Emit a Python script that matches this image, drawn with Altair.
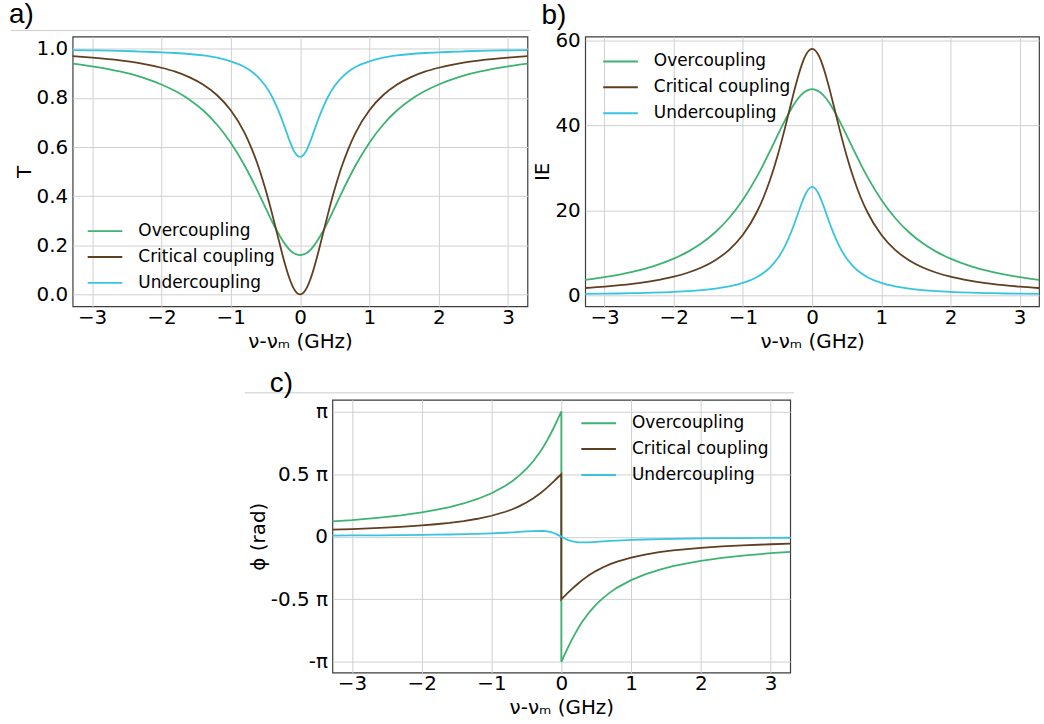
import altair as alt
import pandas as pd

# ---------------- data ----------------
SERIES = ["Overcoupling", "Critical coupling", "Undercoupling"]
COLORS = ["#3cb371", "#603f21", "#38c4e0"]

# detuning positions (GHz) on one side; curves are mirror-symmetric (a, b)
X_HALF = [0.05, 0.1, 0.15, 0.2, 0.25, 0.3, 0.4, 0.5, 0.6, 0.7, 0.8, 1.0,
          1.2, 1.4, 1.6, 1.8, 2.0, 2.3, 2.6, 3.0, 3.28]

# panel a) transmission T : value at 0 followed by values at X_HALF
T_OVER = [0.160, 0.163, 0.170, 0.182, 0.199, 0.219, 0.242, 0.295, 0.354, 0.414, 0.471,
          0.525, 0.618, 0.692, 0.750, 0.794, 0.828, 0.855, 0.886, 0.908, 0.929, 0.940]
T_CRIT = [0.0, 0.0075, 0.029, 0.063, 0.107, 0.158, 0.213, 0.325, 0.429, 0.520, 0.595,
          0.658, 0.750, 0.812, 0.855, 0.885, 0.907, 0.923, 0.941, 0.953, 0.964, 0.970]
T_UNDER = [0.560, 0.568, 0.591, 0.625, 0.664, 0.703, 0.740, 0.803, 0.850, 0.883, 0.908,
           0.926, 0.949, 0.964, 0.973, 0.979, 0.983, 0.986, 0.989, 0.992, 0.994, 0.995]

# panel b) IE
IE_OVER = [48.5, 48.36, 47.95, 47.27, 46.36, 45.23, 43.92, 40.92, 37.61, 34.23, 30.94,
           27.85, 22.47, 18.18, 14.83, 12.23, 10.20, 8.61, 6.80, 5.49, 4.24, 3.60]
IE_CRIT = [58.0, 57.56, 56.27, 54.24, 51.64, 48.65, 45.42, 38.87, 32.78, 27.52, 23.13,
           19.53, 14.23, 10.68, 8.25, 6.53, 5.29, 4.36, 3.36, 2.66, 2.02, 1.70]
IE_UNDER = [25.5, 25.01, 23.65, 21.69, 19.43, 17.13, 14.97, 11.33, 8.63, 6.69, 5.28,
            4.25, 2.89, 2.08, 1.56, 1.21, 0.97, 0.79, 0.60, 0.47, 0.36, 0.30]

# panel c) phase in units of pi, on the negative-detuning side (odd curves)
PH_OVER = [1.0, 0.939, 0.880, 0.824, 0.772, 0.724, 0.680, 0.604, 0.541, 0.489, 0.445,
           0.407, 0.347, 0.301, 0.265, 0.236, 0.213, 0.194, 0.170, 0.152, 0.132, 0.122]
PH_CRIT = [0.5, 0.4725, 0.445, 0.419, 0.394, 0.370, 0.347, 0.307, 0.273, 0.244, 0.219,
           0.199, 0.167, 0.143, 0.124, 0.110, 0.099, 0.0895, 0.078, 0.0695, 0.0605, 0.0554]
PH_UNDER = [0.0, 0.0146, 0.0271, 0.0363, 0.0421, 0.0452, 0.0463, 0.0449, 0.0416, 0.0379,
            0.0344, 0.0313, 0.0263, 0.0227, 0.0195, 0.0174, 0.0156, 0.0141, 0.0124,
            0.0110, 0.0095, 0.0088]

X_TICKS = [-3, -2, -1, 0, 1, 2, 3]
T_TICKS = [0.0, 0.2, 0.4, 0.6, 0.8, 1.0]
IE_TICKS = [0, 20, 40, 60]
PH_TICKS = [-1, -0.5, 0, 0.5, 1]
X_DOMAIN = [-3.28, 3.28]

XTITLE = "ν-νₘ (GHz)"


def even_table(curves):
    rows = []
    for name, vals in zip(SERIES, curves):
        for i, x in enumerate(reversed(X_HALF)):
            rows.append({"s": name, "x": -x, "v": vals[len(X_HALF) - i]})
        rows.append({"s": name, "x": 0.0, "v": vals[0]})
        for i, x in enumerate(X_HALF):
            rows.append({"s": name, "x": x, "v": vals[i + 1]})
    return pd.DataFrame(rows)


def odd_table(curves):
    rows = []
    for name, vals in zip(SERIES, curves):
        o = 0
        for i, x in enumerate(reversed(X_HALF)):
            rows.append({"s": name, "x": -x, "v": vals[len(X_HALF) - i], "o": o}); o += 1
        rows.append({"s": name, "x": 0.0, "v": vals[0], "o": o}); o += 1
        if vals[0] != 0:
            rows.append({"s": name, "x": 0.0, "v": -vals[0], "o": o}); o += 1
        for i, x in enumerate(X_HALF):
            rows.append({"s": name, "x": x, "v": -vals[i + 1], "o": o}); o += 1
    return pd.DataFrame(rows)


def legend(lx, ly):
    return alt.Legend(title=None, orient="none", legendX=lx, legendY=ly,
                      symbolType="M-2.9,0L2.9,0", symbolSize=144, symbolStrokeWidth=2,
                      labelFontSize=17, labelFont="DejaVu Sans", labelColor="black",
                      labelOffset=25, rowPadding=8, padding=0)


def color_enc(lx, ly):
    return alt.Color("s:N", scale=alt.Scale(domain=SERIES, range=COLORS),
                     sort=SERIES, legend=legend(lx, ly))


def x_enc():
    return alt.X("x:Q", scale=alt.Scale(domain=X_DOMAIN, nice=False, zero=False),
                 axis=alt.Axis(values=X_TICKS, format="d", title=XTITLE,
                               labelPadding=1, titleY=25, titleBaseline="top"))


def separator(x1, x2, y):
    return alt.Chart(pd.DataFrame({"k": [0]})).mark_rule(
        color="#cccccc", strokeWidth=1).encode(
        x=alt.value(x1), x2=alt.value(x2), y=alt.value(y))


def panel_title(text, dx, dy):
    return alt.TitleParams(text=text, anchor="start", frame="group", dx=dx, dy=dy,
                           fontSize=28, font="Liberation Sans", fontWeight="normal",
                           color="black")


# ---------------- panel a ----------------
a_line = alt.Chart(even_table([T_OVER, T_CRIT, T_UNDER])).mark_line(
    strokeWidth=1.8, interpolate="monotone").encode(
    x=x_enc(),
    y=alt.Y("v:Q", scale=alt.Scale(domain=[-0.048, 1.05], nice=False, zero=False),
            axis=alt.Axis(values=T_TICKS, format=".1f", title="T")),
    color=color_enc(24, 187),
)
panel_a = alt.layer(a_line, separator(-62, 460, -6)).properties(
    width=457, height=271, title=panel_title("a)", -64, 3))

# ---------------- panel b ----------------
b_line = alt.Chart(even_table([IE_OVER, IE_CRIT, IE_UNDER])).mark_line(
    strokeWidth=1.8, interpolate="monotone").encode(
    x=x_enc(),
    y=alt.Y("v:Q", scale=alt.Scale(domain=[-2.6, 60.9], nice=False, zero=False),
            axis=alt.Axis(values=IE_TICKS, format="d", title="IE")),
    color=color_enc(27, 16.5),
)
panel_b = b_line.properties(width=456, height=271, title=panel_title("b)", -44, 4))

# ---------------- panel c ----------------
label_expr = ("datum.value == 1 ? 'π' : datum.value == 0.5 ? '0.5 π' : "
              "datum.value == 0 ? '0' : datum.value == -0.5 ? '-0.5 π' : '-π'")
c_line = alt.Chart(odd_table([PH_OVER, PH_CRIT, PH_UNDER])).mark_line(
    strokeWidth=1.8).encode(
    x=x_enc(),
    y=alt.Y("v:Q", scale=alt.Scale(domain=[-1.085, 1.093], nice=False, zero=False),
            axis=alt.Axis(values=PH_TICKS, labelExpr=label_expr, title="ϕ (rad)")),
    color=color_enc(259, 15),
    order=alt.Order("o:Q"),
)
panel_c = alt.layer(c_line, separator(-88, 464, -7)).properties(
    width=460, height=274, title=panel_title("c)", -63, 10))

spacer = alt.Chart(pd.DataFrame({"k": [0]})).mark_point(opacity=0).encode(
    x=alt.value(0), y=alt.value(0)).properties(
    width=251, height=10, view=alt.ViewBackground(strokeOpacity=0))

top = alt.hconcat(panel_a, panel_b, spacing=58, bounds="flush").resolve_scale(
    x="independent", y="independent", color="independent")
bottom = alt.hconcat(spacer, panel_c, spacing=10, bounds="flush").resolve_scale(
    x="independent", y="independent", color="independent")

chart = alt.vconcat(top, bottom, spacing=17).resolve_scale(
    x="independent", y="independent", color="independent").properties(
    padding={"left": 8, "top": -2, "right": 0, "bottom": 2},
    background="white",
).configure_view(
    stroke="#3d3d3d", strokeWidth=1.2
).configure_axis(
    grid=True, gridColor="#d0d0d0", gridWidth=1, domain=False, ticks=False, tickSize=0,
    labelFont="DejaVu Sans", labelFontSize=20, labelColor="black", labelPadding=5,
    titleFont="DejaVu Sans", titleFontSize=20, titleFontWeight="normal",
    titleColor="black", titlePadding=2,
)

chart.save("out.html", embed_options={"renderer": "svg", "actions": False})
